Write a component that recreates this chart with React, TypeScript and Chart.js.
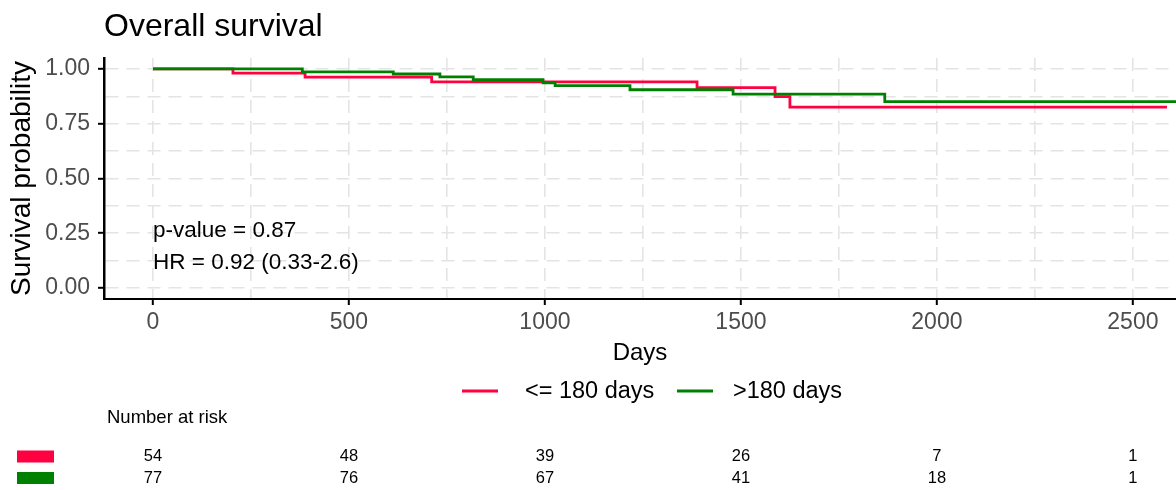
import React, { useEffect, useRef } from 'react';
import { Chart, registerables } from 'chart.js';

Chart.register(...registerables);

const FONT = "'Liberation Sans', Arial, sans-serif";

const TITLE = 'Overall survival';
const X_LABEL = 'Days';
const Y_LABEL = 'Survival probability';
const GROUP_LABELS = ['<= 180 days', '>180 days'];
const GROUP_COLORS = ['#FF0040', '#008000'];

// Kaplan-Meier step points (time in days, survival probability)
const lowTimes = [0, 204, 388, 711, 1388, 1587, 1625, 2587];
const lowSurv = [1, 0.981, 0.963, 0.941, 0.915, 0.874, 0.826, 0.826];
const highTimes = [0, 381, 613, 732, 817, 995, 1026, 1217, 1480, 1867, 2700];
const highSurv = [1, 0.987, 0.977, 0.964, 0.951, 0.937, 0.924, 0.905, 0.885, 0.851, 0.851];

const xTicks = [0, 250, 500, 750, 1000, 1250, 1500, 1750, 2000, 2250, 2500];
const xLabelTicks = [0, 500, 1000, 1500, 2000, 2500];
const yTicks = [0, 0.125, 0.25, 0.375, 0.5, 0.625, 0.75, 0.875, 1];
const yLabelTicks = [0, 0.25, 0.5, 0.75, 1];

const riskTimes = [0, 500, 1000, 1500, 2000, 2500];
const riskLow = [54, 48, 39, 26, 7, 1];
const riskHigh = [77, 76, 67, 41, 18, 1];

const ANNOT_TEXT = ['p-value = 0.87', 'HR = 0.92 (0.33-2.6)'];
const ANNOT_Y = [0.26, 0.115];

const isLabelTick = (list: number[], v: number) => list.some((t) => Math.abs(t - v) < 1e-9);

const decorPlugin = {
  id: 'decor',
  afterDraw(chart: any) {
    const ctx = chart.ctx as CanvasRenderingContext2D;
    const xs = chart.scales.x;
    const ys = chart.scales.y;
    ctx.save();
    // Title
    ctx.fillStyle = '#000';
    ctx.textAlign = 'left';
    ctx.textBaseline = 'alphabetic';
    ctx.font = `32px ${FONT}`;
    ctx.fillText(TITLE, 104, 36);

    // Annotation
    ctx.font = `22.5px ${FONT}`;
    ctx.textBaseline = 'middle';
    ANNOT_TEXT.forEach((t, i) => {
      ctx.fillText(t, xs.getPixelForValue(0), ys.getPixelForValue(ANNOT_Y[i]));
    });

    // Legend
    const legendY = 391;
    const legendItems = [
      { x0: 462, x1: 498, tx: 525 },
      { x0: 677, x1: 713, tx: 733 },
    ];
    ctx.font = `23.5px ${FONT}`;
    legendItems.forEach((it, i) => {
      ctx.strokeStyle = GROUP_COLORS[i];
      ctx.lineWidth = 2.8;
      ctx.beginPath();
      ctx.moveTo(it.x0, legendY);
      ctx.lineTo(it.x1, legendY);
      ctx.stroke();
      ctx.fillStyle = '#000';
      ctx.textAlign = 'left';
      ctx.textBaseline = 'middle';
      ctx.fillText(GROUP_LABELS[i], it.tx, legendY + 1);
    });

    // Risk table
    ctx.font = `18.5px ${FONT}`;
    ctx.fillStyle = '#000';
    ctx.textAlign = 'left';
    ctx.textBaseline = 'middle';
    ctx.fillText('Number at risk', 107, 418);

    const rowY = [456.5, 478];
    const rows = [riskLow, riskHigh];
    rows.forEach((row, r) => {
      ctx.fillStyle = GROUP_COLORS[r];
      ctx.fillRect(17, rowY[r] - 6, 37, 12);
      ctx.fillStyle = '#000';
      ctx.font = `16.5px ${FONT}`;
      ctx.textAlign = 'center';
      ctx.textBaseline = 'middle';
      row.forEach((n, i) => {
        ctx.fillText(String(n), xs.getPixelForValue(riskTimes[i]), rowY[r]);
      });
    });
    ctx.restore();
  },
};

export default function App() {
  const canvasRef = useRef<HTMLCanvasElement | null>(null);

  useEffect(() => {
    if (!canvasRef.current) return;
    const gridCommon = {
      color: '#e4e4e4',
      lineWidth: 1.6,
      drawTicks: true,
      tickLength: 6,
      tickWidth: 2,
      tickBorderDash: [],
    };
    const chart = new Chart(canvasRef.current, {
      type: 'line',
      data: {
        datasets: [
          {
            label: GROUP_LABELS[0],
            data: lowTimes.map((t, i) => ({ x: t, y: lowSurv[i] })),
            borderColor: GROUP_COLORS[0],
            backgroundColor: GROUP_COLORS[0],
            borderWidth: 2.8,
            pointRadius: 0,
            stepped: true,
            fill: false,
            order: 1,
          },
          {
            label: GROUP_LABELS[1],
            data: highTimes.map((t, i) => ({ x: t, y: highSurv[i] })),
            borderColor: GROUP_COLORS[1],
            backgroundColor: GROUP_COLORS[1],
            borderWidth: 2.8,
            pointRadius: 0,
            stepped: true,
            fill: false,
            order: 0,
          },
        ],
      },
      options: {
        responsive: false,
        animation: false,
        devicePixelRatio: 1,
        layout: { padding: { left: 0, top: 58, right: 0, bottom: 120 } },
        plugins: {
          legend: { display: false },
          title: { display: false },
          tooltip: { enabled: false },
        },
        scales: {
          x: {
            type: 'linear',
            min: -125,
            max: 2610,
            afterBuildTicks: (s: any) => {
              s.ticks = xTicks.map((v) => ({ value: v }));
            },
            afterFit: (s: any) => {
              s.height = 71;
            },
            ticks: {
              autoSkip: false,
              maxRotation: 0,
              padding: 4,
              color: '#4d4d4d',
              font: { family: FONT, size: 23 },
              callback: (v: any) => (isLabelTick(xLabelTicks, Number(v)) ? String(v) : ''),
            },
            grid: {
              ...gridCommon,
              tickColor: (c: any) =>
                c.tick && isLabelTick(xLabelTicks, c.tick.value) ? '#000' : 'rgba(0,0,0,0)',
            },
            border: { display: true, color: '#000', width: 2, dash: [13, 8] },
            title: {
              display: true,
              text: X_LABEL,
              color: '#000',
              font: { family: FONT, size: 24 },
              padding: { top: 0, bottom: 2 },
            },
          },
          y: {
            type: 'linear',
            min: -0.05,
            max: 1.05,
            afterBuildTicks: (s: any) => {
              s.ticks = yTicks.map((v) => ({ value: v }));
            },
            afterFit: (s: any) => {
              s.width = 104;
            },
            ticks: {
              autoSkip: false,
              padding: 8,
              color: '#4d4d4d',
              font: { family: FONT, size: 23 },
              callback: (v: any) => (isLabelTick(yLabelTicks, Number(v)) ? Number(v).toFixed(2) : ''),
            },
            grid: {
              ...gridCommon,
              tickColor: (c: any) =>
                c.tick && isLabelTick(yLabelTicks, c.tick.value) ? '#000' : 'rgba(0,0,0,0)',
            },
            border: { display: true, color: '#000', width: 2.5, dash: [13, 8] },
            title: {
              display: true,
              text: Y_LABEL,
              color: '#000',
              font: { family: FONT, size: 28 },
              padding: { top: 5, bottom: 0 },
            },
          },
        },
      },
      plugins: [decorPlugin],
    } as any);
    return () => chart.destroy();
  }, []);

  return (
    <div style={{ position: 'absolute', left: 0, top: 0, width: 1176, height: 490, background: '#fff' }}>
      <canvas ref={canvasRef} width={1176} height={490} style={{ display: 'block' }} />
    </div>
  );
}
